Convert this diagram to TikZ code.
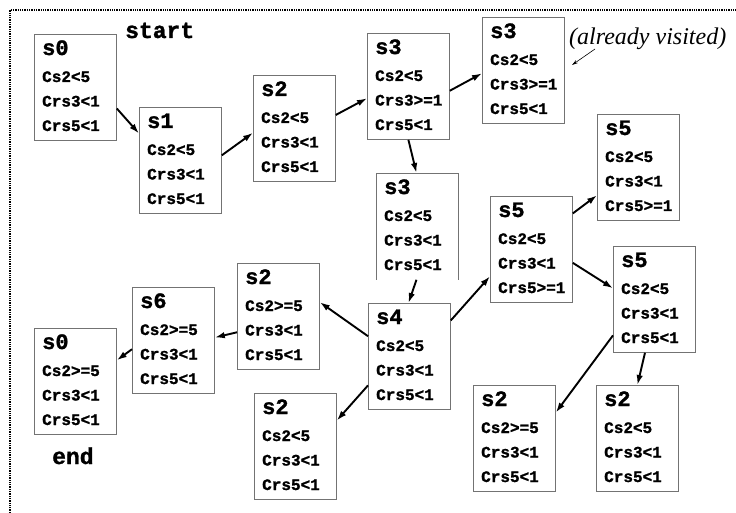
\documentclass[tikz,border=0pt]{standalone}
\usepackage{fontspec}
\setmainfont{Liberation Serif}
\setmonofont{Liberation Mono}[BoldFeatures={FakeBold=1.3}]
\usetikzlibrary{calc,arrows.meta}

\tikzset{
  statebox/.style={draw=black!55, line width=0.8pt, minimum width=82pt,
    minimum height=106pt, inner sep=0pt, anchor=north west},
  openbox/.style={statebox, draw=none},
  stitle/.style={font=\fontsize{22}{22}\selectfont\ttfamily\bfseries,
    inner sep=0pt, anchor=base west},
  sline/.style={font=\fontsize{16}{16}\selectfont\ttfamily\bfseries,
    inner sep=0pt, anchor=base west},
  tag/.style={font=\fontsize{23}{23}\selectfont\ttfamily\bfseries,
    inner sep=0pt, anchor=base west},
  note/.style={font=\fontsize{24}{24}\selectfont\itshape,
    inner sep=0pt, anchor=base west},
  move/.style={line width=1.9pt, -{Latex[length=10pt,width=6.5pt]}},
  pointer/.style={line width=0.6pt, -{Stealth[length=6pt,width=3.5pt]}},
  frame/.style={densely dotted, line width=1.3pt},
}

% one state: [style] name, left, top, title, three conditions
\newcommand\stbox[8][statebox]{%
  \node[#1] (#2) at (#3,#4) {};
  \node[stitle] (#2-t) at ($(#2.north west)+(8,21)$) {#5};
  \node[sline] (#2-a) at ($(#2.north west)+(8,48)$) {#6};
  \node[sline] (#2-b) at ($(#2.north west)+(8,72.5)$) {#7};
  \node[sline] (#2-c) at ($(#2.north west)+(8,97)$) {#8};
}

\begin{document}
\begin{tikzpicture}[x=1pt, y=-1pt]
  \fill[white] (0,0) rectangle (736,513);
  \useasboundingbox (0,0) rectangle (736,513);

  % dotted frame along the top and left
  \draw[frame] (10,513) -- (10,10) -- (736,10);

  % states
  \stbox{s0}{34}{34}{s0}{Cs2<5}{Crs3<1}{Crs5<1}
  \stbox{s1}{139}{107}{s1}{Cs2<5}{Crs3<1}{Crs5<1}
  \stbox{s2a}{253}{75}{s2}{Cs2<5}{Crs3<1}{Crs5<1}
  \stbox{s3a}{367}{33}{s3}{Cs2<5}{Crs3>=1}{Crs5<1}
  \stbox{s3v}{482}{17}{s3}{Cs2<5}{Crs3>=1}{Crs5<1}
  \stbox[openbox]{s3m}{376}{173}{s3}{Cs2<5}{Crs3<1}{Crs5<1}
  \draw[draw=black!55, line width=0.8pt]
    (s3m.south west) -- (s3m.north west) -- (s3m.north east) -- (s3m.south east);
  \stbox{s5a}{597}{114}{s5}{Cs2<5}{Crs3<1}{Crs5>=1}
  \stbox{s5m}{490}{196}{s5}{Cs2<5}{Crs3<1}{Crs5>=1}
  \stbox{s5r}{613}{246}{s5}{Cs2<5}{Crs3<1}{Crs5<1}
  \stbox{s2m}{237}{263}{s2}{Cs2>=5}{Crs3<1}{Crs5<1}
  \stbox{s4}{368}{303}{s4}{Cs2<5}{Crs3<1}{Crs5<1}
  \stbox{s2l}{254}{393}{s2}{Cs2<5}{Crs3<1}{Crs5<1}
  \stbox{s6}{132}{287}{s6}{Cs2>=5}{Crs3<1}{Crs5<1}
  \stbox{s0e}{34}{328}{s0}{Cs2>=5}{Crs3<1}{Crs5<1}
  \stbox{s2b}{473}{385}{s2}{Cs2>=5}{Crs3<1}{Crs5<1}
  \stbox{s2r}{596}{385}{s2}{Cs2<5}{Crs3<1}{Crs5<1}

  % labels
  \node[tag] (start) at (125,38) {start};
  \node[tag] (end) at (52,464) {end};
  \node[note] (visited) at (569,45) {(already visited)};
  \coordinate (vtail) at (595,49);
  \coordinate (vtip) at (572,65);
  \draw[pointer] (vtail) -- (vtip);

  % transitions
  \draw[move] (s0.-27) -- (s1.147);
  \draw[move] (s1.7) -- (s2a.186);
  \draw[move] (s2a.18) -- (s3a.196);
  \draw[move] (s3a.-6) -- (s3v.184);
  \draw[move] (s3a.-90) -- (s3m.91);
  \draw[move] (s3m.-91) -- (s4.91);
  \draw[move] (s4.154) -- (s2m.19);
  \draw[move] (s2m.201) -- (s6.4);
  \draw[move] (s6.192) -- (s0e.27);
  \draw[move] (s4.215) -- (s2l.32);
  \draw[move] (s4.41) -- (s5m.213);
  \draw[move] (s5m.41) -- (s5a.214);
  \draw[move] (s5m.-18) -- (s5r.165);
  \draw[move] (s5r.221) -- (s2b.32);
  \draw[move] (s5r.-100) -- (s2r.90);
\end{tikzpicture}
\end{document}
